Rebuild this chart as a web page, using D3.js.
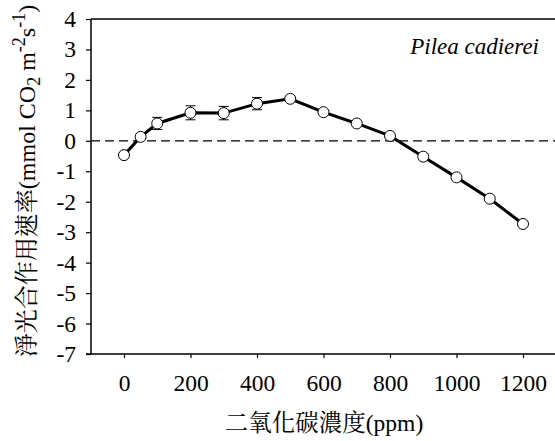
<!DOCTYPE html>
<html><head><meta charset="utf-8">
<script src="https://cdn.jsdelivr.net/npm/d3@7"></script>
<style>body{margin:0;background:#fff}svg{display:block}</style>
</head><body>
<svg id="c" width="555" height="441"></svg>
<script>
const co2 = [0, 50, 100, 200, 300, 400, 500, 600, 700, 800, 900, 1000, 1100, 1200];
const rate = [-0.47, 0.13, 0.57, 0.92, 0.91, 1.22, 1.38, 0.94, 0.57, 0.16, -0.52, -1.2, -1.9, -2.73];
const err = [0.06, 0.06, 0.2, 0.23, 0.22, 0.2, 0.07, 0.05, 0.05, 0.06, 0.1, 0.05, 0.05, 0.05];
const xTicks = [0, 200, 400, 600, 800, 1000, 1200];
const yTicks = [4, 3, 2, 1, 0, -1, -2, -3, -4, -5, -6, -7];
const species = "Pilea cadierei";

const FF = "Liberation Serif, Noto Serif CJK TC, serif";
const svg = d3.select("#c");
const L = 91, R = 555, T = 19, B = 354;
const x = d3.scaleLinear().domain([0, 1200]).range([124, 523]);
const y = d3.scaleLinear().domain([-7, 4]).range([B, T]);

svg.append("line").attr("x1", L).attr("x2", R).attr("y1", T).attr("y2", T).attr("stroke", "#000").attr("stroke-width", 1.5);

const yAxis = svg.append("g").attr("transform", `translate(${L},0)`)
  .call(d3.axisLeft(y).tickValues(yTicks).tickSize(5).tickPadding(10).tickFormat(d => String(d)));
const xAxis = svg.append("g").attr("transform", `translate(0,${B})`)
  .call(d3.axisBottom(x).tickValues(xTicks).tickSize(4).tickPadding(16).tickFormat(d => String(d)));
[yAxis, xAxis].forEach(g => {
  g.attr("font-family", FF).attr("font-size", 23.5);
  g.select(".domain").remove();
  g.selectAll("line").attr("stroke", "#000").attr("stroke-width", 1.2);
  g.selectAll("text").style("font-family", FF).style("font-size", "23.5px").attr("fill", "#000");
});
svg.append("line").attr("x1", L).attr("x2", L).attr("y1", T).attr("y2", B).attr("stroke", "#000").attr("stroke-width", 1.5);
svg.append("line").attr("x1", L - 5).attr("x2", R).attr("y1", B).attr("y2", B).attr("stroke", "#000").attr("stroke-width", 1.5);

svg.append("line").attr("x1", L).attr("x2", R).attr("y1", y(0)).attr("y2", y(0))
  .attr("stroke", "#000").attr("stroke-width", 1.2).attr("stroke-dasharray", "9,5");

const data = co2.map((c, i) => ({c, v: rate[i], e: err[i]}));

const eb = svg.append("g");
data.forEach(d => {
  eb.append("line").attr("x1", x(d.c)).attr("x2", x(d.c)).attr("y1", y(d.v - d.e)).attr("y2", y(d.v + d.e)).attr("stroke", "#000").attr("stroke-width", 1);
  [d.v - d.e, d.v + d.e].forEach(v => eb.append("line").attr("x1", x(d.c) - 5).attr("x2", x(d.c) + 5).attr("y1", y(v)).attr("y2", y(v)).attr("stroke", "#000").attr("stroke-width", 1));
});

svg.append("path").datum(data)
  .attr("d", d3.line().x(d => x(d.c)).y(d => y(d.v)))
  .attr("fill", "none").attr("stroke", "#000").attr("stroke-width", 3);

svg.append("g").selectAll("circle").data(data).join("circle")
  .attr("cx", d => x(d.c)).attr("cy", d => y(d.v)).attr("r", 5.5)
  .attr("fill", "#fff").attr("stroke", "#000").attr("stroke-width", 1);

svg.append("text").attr("x", 539).attr("y", 54).attr("text-anchor", "end")
  .style("font-family", FF).style("font-style", "italic").style("font-size", "23px").text(species);

svg.append("text").attr("x", 324).attr("y", 431).attr("text-anchor", "middle")
  .style("font-family", FF).style("font-size", "23.5px").text("二氧化碳濃度(ppm)");

const yl = svg.append("text").attr("transform", "translate(35,181) rotate(-90)")
  .attr("text-anchor", "middle").style("font-family", FF).style("font-size", "24px");
yl.append("tspan").text("淨光合作用速率(mmol CO");
yl.append("tspan").attr("baseline-shift", "-25%").style("font-size", "18px").text("2");
yl.append("tspan").text(" m");
yl.append("tspan").attr("baseline-shift", "super").style("font-size", "18px").text("-2");
yl.append("tspan").text("s");
yl.append("tspan").attr("baseline-shift", "super").style("font-size", "18px").text("-1");
yl.append("tspan").text(")");
</script>
</body></html>
